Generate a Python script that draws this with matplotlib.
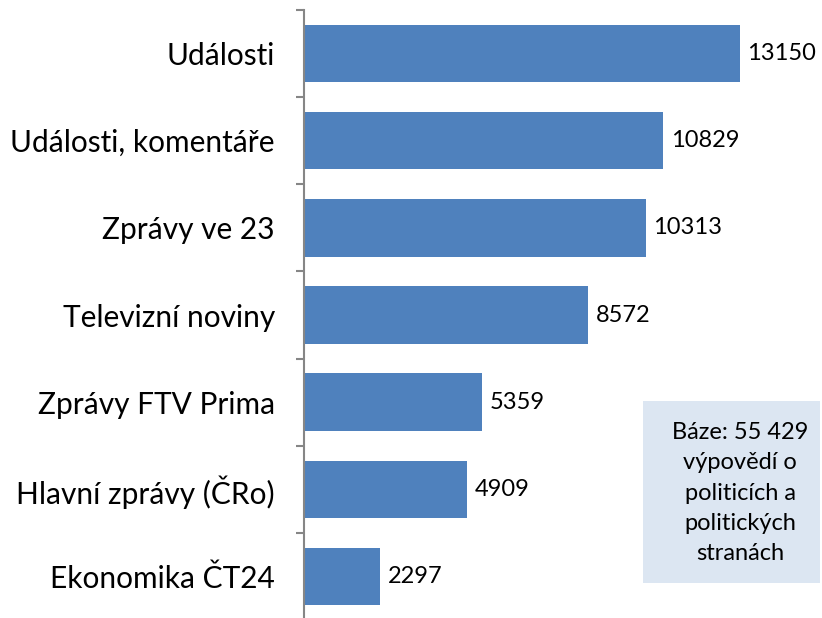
import matplotlib
matplotlib.use("Agg")
import matplotlib.pyplot as plt
from matplotlib.patches import Rectangle

categories = ["Události", "Události, komentáře", "Zprávy ve 23", "Televizní noviny",
              "Zprávy FTV Prima", "Hlavní zprávy (ČRo)", "Ekonomika ČT24"]
values = [13150, 10829, 10313, 8572, 5359, 4909, 2297]
note = "Báze: 55 429\nvýpovědí o\npoliticích a\npolitických\nstranách"

plt.rcParams['font.family'] = ['Lato', 'DejaVu Sans']

W, H = 822, 618
fig = plt.figure(figsize=(W / 100, H / 100), dpi=100)
ax_left, ax_right, ax_top, ax_bot = 304, 768, 10, 620
ax = fig.add_axes([ax_left / W, (H - ax_bot) / H, (ax_right - ax_left) / W, (ax_bot - ax_top) / H])

pos = list(range(len(categories)))
ax.barh(pos, values, height=0.66, color="#4F81BD", zorder=2)
ax.set_xlim(0, 14000)
ax.set_ylim(len(categories) - 0.5, -0.5)

for spine in ["top", "right", "bottom"]:
    ax.spines[spine].set_visible(False)
ax.spines["left"].set_color("#868686")
ax.spines["left"].set_linewidth(1.5)
ax.set_xticks([])

ax.set_yticks([p - 0.5 for p in pos] + [len(categories) - 0.5])
ax.set_yticklabels([])
ax.tick_params(axis="y", which="major", length=6, width=1.5, color="#868686")
ax.set_yticks(pos, minor=True)
ax.set_yticklabels(categories, minor=True, fontsize=21.5)
ax.tick_params(axis="y", which="minor", length=0, pad=21)

for p, v in zip(pos, values):
    ax.annotate(str(v), xy=(v, p), xytext=(5.5, 0), textcoords="offset points",
                va="center", ha="left", fontsize=17)

fig.patches.append(Rectangle((643 / W, (H - 583) / H), (820 - 643) / W, (583 - 401) / H,
                             transform=fig.transFigure, facecolor="#DCE6F2",
                             edgecolor="none", zorder=0))
fig.text(740 / W, (H - 493) / H, note, ha="center", va="center", fontsize=17,
         linespacing=1.55)

fig.savefig("out.png", dpi=100)
